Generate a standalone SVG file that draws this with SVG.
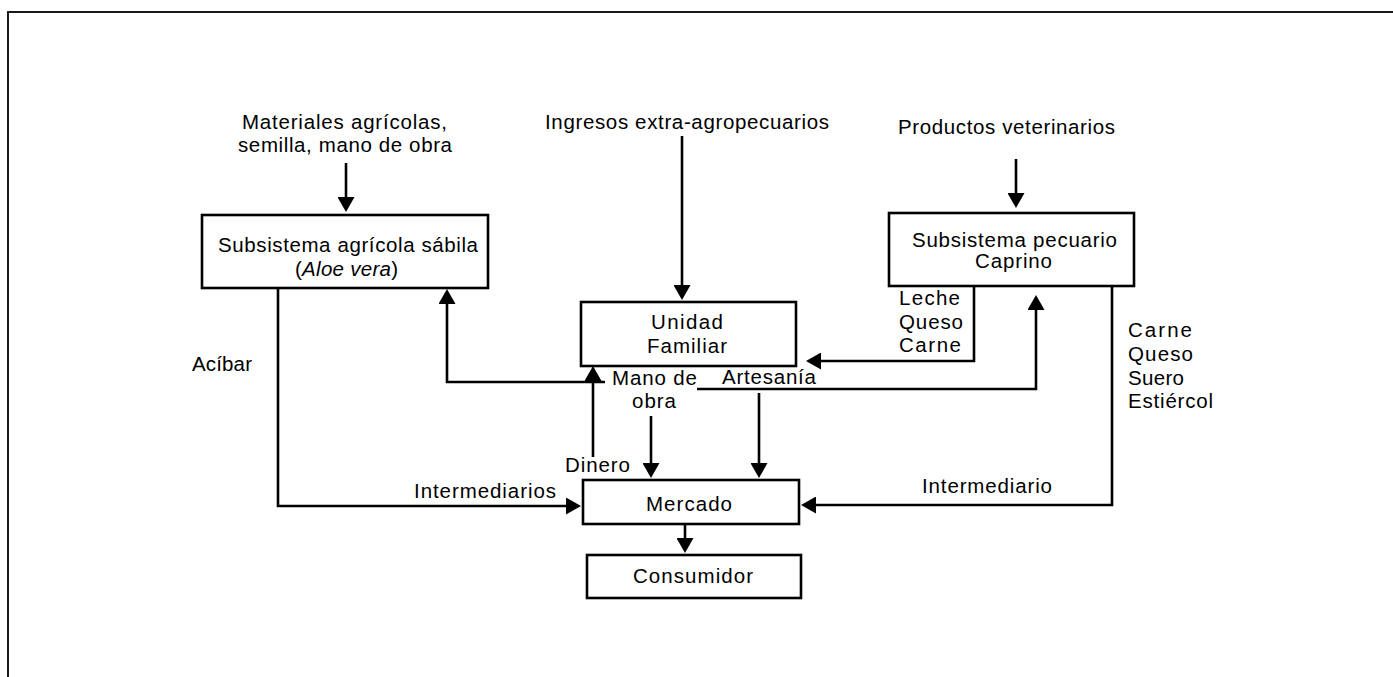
<svg xmlns="http://www.w3.org/2000/svg" width="1393" height="677" viewBox="0 0 1393 677">
  <style>
    .box { fill: #ffffff; stroke: #000000; stroke-width: 2.6; }
    .wire { fill: none; stroke: #000000; stroke-width: 2.6; }
    .lbl { font-family: "Liberation Sans", Arial, sans-serif; font-size: 20.5px; fill: #000000; }
    .frame { fill: none; stroke: #000000; stroke-width: 1.8; }
  </style>
  <defs>
    <marker id="arrow" markerUnits="userSpaceOnUse" markerWidth="16" markerHeight="17" refX="11" refY="8.5" orient="auto">
      <path d="M0,0 L15,8.5 L0,17 Z" fill="#000000"/>
    </marker>
  </defs>

  <rect width="1393" height="677" fill="#ffffff"/>
  <!-- outer frame -->
  <rect class="frame" x="8" y="12" width="1400" height="700"/>

  <!-- external inputs -->
  <g id="input-materiales">
    <text class="lbl" x="242" y="129" textLength="205" lengthAdjust="spacing">Materiales agrícolas,</text>
    <text class="lbl" x="238" y="152" textLength="214" lengthAdjust="spacing">semilla, mano de obra</text>
  </g>
  <g id="input-ingresos">
    <text class="lbl" x="545" y="129" textLength="284" lengthAdjust="spacing">Ingresos extra-agropecuarios</text>
  </g>
  <g id="input-veterinarios">
    <text class="lbl" x="898" y="134" textLength="217" lengthAdjust="spacing">Productos veterinarios</text>
  </g>

  <!-- nodes -->
  <g id="node-agricola">
    <rect class="box" x="202" y="215" width="286" height="73"/>
    <text class="lbl" x="218" y="252" textLength="260" lengthAdjust="spacing">Subsistema agrícola sábila</text>
    <text class="lbl" x="295" y="276" textLength="103" lengthAdjust="spacing">(<tspan font-style="italic">Aloe vera</tspan>)</text>
  </g>
  <g id="node-familiar">
    <rect class="box" x="581" y="302" width="215" height="64"/>
    <text class="lbl" x="651" y="329" textLength="72" lengthAdjust="spacing">Unidad</text>
    <text class="lbl" x="647" y="353" textLength="80" lengthAdjust="spacing">Familiar</text>
  </g>
  <g id="node-pecuario">
    <rect class="box" x="889" y="213" width="245" height="73"/>
    <text class="lbl" x="912" y="247" textLength="205" lengthAdjust="spacing">Subsistema pecuario</text>
    <text class="lbl" x="975" y="268" textLength="77" lengthAdjust="spacing">Caprino</text>
  </g>
  <g id="node-mercado">
    <rect class="box" x="583" y="480" width="216" height="44"/>
    <text class="lbl" x="646" y="511" textLength="86" lengthAdjust="spacing">Mercado</text>
  </g>
  <g id="node-consumidor">
    <rect class="box" x="587" y="555" width="214" height="43"/>
    <text class="lbl" x="633" y="583" textLength="120" lengthAdjust="spacing">Consumidor</text>
  </g>

  <!-- connectors -->
  <g id="connectors">
    <path class="wire" d="M346,163 V208" marker-end="url(#arrow)"/>
    <path class="wire" d="M682,136 V296" marker-end="url(#arrow)"/>
    <path class="wire" d="M1016,159 V204" marker-end="url(#arrow)"/>
    <path class="wire" d="M278,288 V506 H577" marker-end="url(#arrow)"/>
    <path class="wire" d="M605,382 H447 V293" marker-end="url(#arrow)"/>
    <path class="wire" d="M697,389 H1036 V299" marker-end="url(#arrow)"/>
    <path class="wire" d="M974,286 V361 H810" marker-end="url(#arrow)"/>
    <path class="wire" d="M1112,286 V505 H805" marker-end="url(#arrow)"/>
    <path class="wire" d="M593,457 V370" marker-end="url(#arrow)"/>
    <path class="wire" d="M651,416 V474" marker-end="url(#arrow)"/>
    <path class="wire" d="M759,393 V474" marker-end="url(#arrow)"/>
    <path class="wire" d="M685,524 V549" marker-end="url(#arrow)"/>
  </g>

  <!-- flow labels -->
  <g id="flow-labels">
    <text class="lbl" x="192" y="371" textLength="60" lengthAdjust="spacing">Acíbar</text>
    <text class="lbl" x="414" y="498" textLength="142" lengthAdjust="spacing">Intermediarios</text>
    <text class="lbl" x="922" y="493" textLength="130" lengthAdjust="spacing">Intermediario</text>
    <text class="lbl" x="612" y="385" textLength="85" lengthAdjust="spacing">Mano de</text>
    <text class="lbl" x="632" y="408" textLength="44" lengthAdjust="spacing">obra</text>
    <text class="lbl" x="722" y="384" textLength="94" lengthAdjust="spacing">Artesanía</text>
    <text class="lbl" x="565" y="472" textLength="65" lengthAdjust="spacing">Dinero</text>
    <text class="lbl" x="899" y="305" textLength="61" lengthAdjust="spacing">Leche</text>
    <text class="lbl" x="899" y="329" textLength="64" lengthAdjust="spacing">Queso</text>
    <text class="lbl" x="899" y="352" textLength="62" lengthAdjust="spacing">Carne</text>
    <text class="lbl" x="1128" y="337" textLength="64" lengthAdjust="spacing">Carne</text>
    <text class="lbl" x="1128" y="361" textLength="65" lengthAdjust="spacing">Queso</text>
    <text class="lbl" x="1128" y="385" textLength="56" lengthAdjust="spacing">Suero</text>
    <text class="lbl" x="1128" y="408" textLength="85" lengthAdjust="spacing">Estiércol</text>
  </g>
</svg>
